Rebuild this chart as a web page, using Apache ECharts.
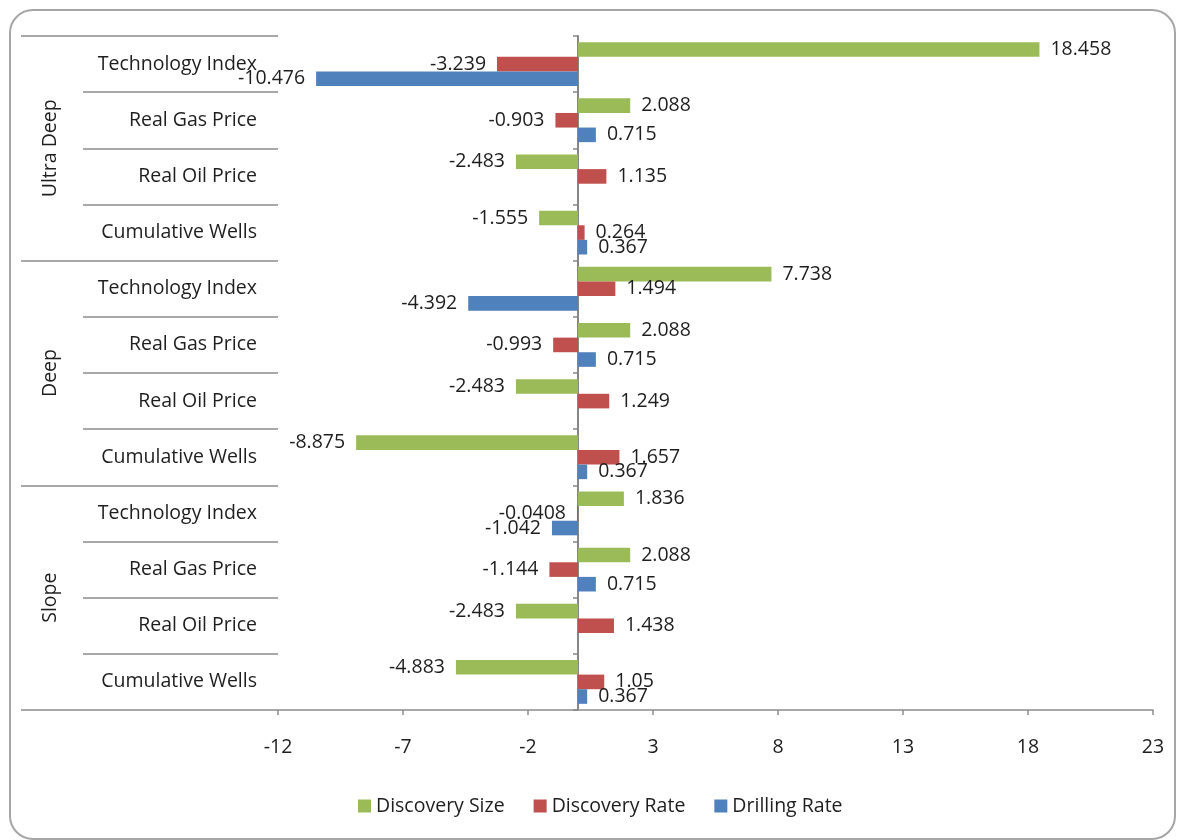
<!DOCTYPE html>
<html><head><meta charset="utf-8">
<script src="https://cdn.jsdelivr.net/npm/echarts@6/dist/echarts.min.js"></script>
<style>
html,body{margin:0;padding:0;background:#fff;}
#chart{position:absolute;left:0;top:0;width:1177px;height:840px;}
#frame{position:absolute;left:9px;top:9px;width:1167px;height:831px;box-sizing:border-box;border:2px solid #a6a6a6;border-radius:24px;pointer-events:none;}
</style></head><body>
<div id="chart"></div><div id="frame"></div>
<script>
// ---- data ----
const groups = ['Ultra Deep', 'Deep', 'Slope'];
const subCategories = [
  'Technology Index', 'Real Gas Price', 'Real Oil Price', 'Cumulative Wells',
  'Technology Index', 'Real Gas Price', 'Real Oil Price', 'Cumulative Wells',
  'Technology Index', 'Real Gas Price', 'Real Oil Price', 'Cumulative Wells'
];
const seriesNames = ['Discovery Size', 'Discovery Rate', 'Drilling Rate'];
const discoverySize = [18.458, 2.088, -2.483, -1.555, 7.738, 2.088, -2.483, -8.875, 1.836, 2.088, -2.483, -4.883];
const discoveryRate = [-3.239, -0.903, 1.135, 0.264, 1.494, -0.993, 1.249, 1.657, -0.0408, -1.144, 1.438, 1.05];
const drillingRate = [-10.476, 0.715, null, 0.367, -4.392, 0.715, null, 0.367, -1.042, 0.715, null, 0.367];
const xMin = -12, xMax = 23, xStep = 5;

// ---- styles ----
const FONT = 'Open Sans';
const FS = 19.5;
const TXT = '#1e1e1e';
const GRID_GREY = '#8c8c8c';
const colors = ['#9BBB59', '#C0504D', '#4F81BD'];

function toItems(arr) {
  return arr.map(v => v === null ? null : ({ value: v, label: { position: v < 0 ? 'left' : 'right' } }));
}

const valueSets = [discoverySize, discoveryRate, drillingRate];
const series = valueSets.map((vals, i) => ({
  name: seriesNames[i],
  type: 'bar',
  yAxisIndex: 0,
  barGap: '0%',
  barCategoryGap: '22%',
  itemStyle: { color: colors[i] },
  label: { show: true, distance: 11, color: TXT, fontFamily: FONT, fontSize: FS, formatter: p => String(p.value) },
  emphasis: { disabled: true },
  data: toItems(vals)
}));

const chart = echarts.init(document.getElementById('chart'), null, { renderer: 'canvas' });
chart.setOption({
  animation: false,
  color: colors,
  textStyle: { fontFamily: FONT },
  grid: { left: 278, right: 24, top: 36, bottom: 130, containLabel: false, outerBoundsMode: 'none' },
  legend: {
    data: seriesNames,
    left: 353, top: 791,
    icon: 'rect', itemWidth: 13, itemHeight: 13, itemGap: 29,
    textStyle: { color: TXT, fontFamily: FONT, fontSize: FS }
  },
  xAxis: {
    type: 'value', min: xMin, max: xMax, interval: xStep,
    splitLine: { show: false },
    axisLine: { show: true, onZero: false, lineStyle: { color: GRID_GREY, width: 1.5 } },
    axisTick: { show: true, length: 5, lineStyle: { color: GRID_GREY, width: 1.5 } },
    axisLabel: { color: TXT, fontFamily: FONT, fontSize: FS, margin: 27 }
  },
  yAxis: [
    {
      type: 'category', data: subCategories, inverse: true, position: 'left',
      axisLine: { show: false, onZero: false },
      axisTick: { show: true, length: 195, interval: 0, lineStyle: { color: GRID_GREY, width: 1.5 } },
      axisLabel: { interval: 0, margin: 21, color: TXT, fontFamily: FONT, fontSize: FS },
      splitLine: { show: false }
    },
    {
      type: 'category', data: groups, inverse: true, position: 'left', offset: 0,
      axisLine: { show: false, onZero: false },
      axisTick: { show: true, length: 257, interval: 0, lineStyle: { color: GRID_GREY, width: 1.5 } },
      axisLabel: { interval: 0, rotate: 90, margin: 218, color: TXT, fontFamily: FONT, fontSize: FS },
      splitLine: { show: false }
    },
    {
      type: 'category', data: subCategories, inverse: true, position: 'left',
      axisLine: { show: true, onZero: true, lineStyle: { color: '#868686', width: 2 } },
      axisTick: { show: true, length: 5, interval: 0, lineStyle: { color: '#868686', width: 1.5 } },
      axisLabel: { show: false },
      splitLine: { show: false }
    }
  ],
  series: series
});
</script>
</body></html>
